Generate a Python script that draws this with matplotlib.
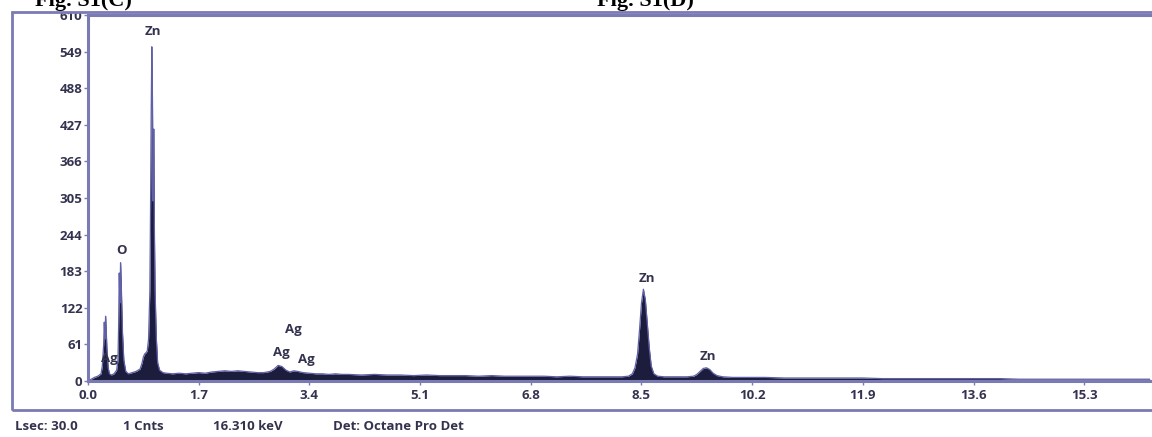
import matplotlib
matplotlib.use("Agg")
import matplotlib.pyplot as plt
from matplotlib.patches import Rectangle
from matplotlib.transforms import Bbox, TransformedBbox

# ---- data ----
energy_kev = [0.00, 0.05, 0.10, 0.15, 0.20, 0.22, 0.24, 0.25, 0.26, 0.27, 0.28, 0.29, 0.31, 0.33,
              0.36, 0.40, 0.44, 0.46, 0.47, 0.48, 0.49, 0.50, 0.51, 0.52, 0.53, 0.55, 0.58, 0.62,
              0.68, 0.74, 0.80, 0.83, 0.85, 0.87, 0.89, 0.91, 0.93, 0.95, 0.96, 0.97, 0.98, 0.99,
              1.00, 1.01, 1.02, 1.03, 1.05, 1.07, 1.10, 1.15,
              1.2, 1.3, 1.4, 1.5, 1.6, 1.7, 1.8, 1.9, 2.0, 2.1, 2.2, 2.3, 2.4, 2.5, 2.6, 2.7, 2.8,
              2.86, 2.92, 2.98, 3.04, 3.1, 3.16, 3.22, 3.3, 3.4, 3.5, 3.6, 3.7, 3.8, 3.9, 4.0,
              4.2, 4.4, 4.6, 4.8, 5.0, 5.2, 5.4, 5.6, 5.8, 6.0, 6.2, 6.4, 6.6, 6.8, 7.0, 7.2, 7.4,
              7.6, 7.8, 8.0, 8.2, 8.30, 8.36, 8.40, 8.44, 8.47, 8.50, 8.53, 8.56, 8.59, 8.62, 8.65,
              8.69, 8.75, 8.85, 9.0, 9.1, 9.2, 9.3, 9.35, 9.40, 9.45, 9.50, 9.55, 9.60, 9.66, 9.75,
              9.9, 10.1, 10.4, 10.7, 11.0, 11.3, 11.6, 11.9, 12.2, 12.5, 12.8, 13.1, 13.4, 13.7,
              14.0, 14.3, 14.6, 14.9, 15.2, 15.5, 15.8, 16.1, 16.31]
counts = [0, 3, 6, 8, 12, 25, 60, 98, 70, 108, 85, 55, 22, 12,
          10, 12, 18, 35, 90, 180, 130, 197, 165, 120, 80, 35, 16, 12,
          14, 16, 20, 30, 40, 45, 47, 50, 70, 150, 280, 440, 557, 470, 300, 420, 250, 150,
          70, 30, 18, 14,
          13, 12, 13, 12, 13, 14, 13, 15, 16, 17, 16, 17, 16, 15, 14, 14, 16,
          20, 26, 24, 18, 15, 17, 16, 14, 13, 12, 12, 11, 12, 11, 11,
          10, 11, 10, 10, 9, 10, 9, 9, 9, 8, 9, 8, 8, 8, 8, 7, 8,
          7, 7, 7, 7, 8, 12, 22, 45, 85, 130, 153, 135, 95, 55, 25,
          12, 8, 7, 7, 7, 7, 8, 11, 16, 21, 22, 19, 13, 9, 7,
          6, 6, 6, 5, 5, 5, 5, 5, 4, 4, 4, 4, 4, 4,
          4, 3, 3, 3, 3, 3, 3, 3, 3]

x_ticks = [0.0, 1.7, 3.4, 5.1, 6.8, 8.5, 10.2, 11.9, 13.6, 15.3]
y_ticks = [0, 61, 122, 183, 244, 305, 366, 427, 488, 549, 610]

peak_labels = ["Zn", "O", "Ag", "Ag", "Ag", "Ag", "Zn", "Zn"]
peak_x = [1.0, 0.52, 0.33, 3.15, 2.97, 3.36, 8.58, 9.52]
peak_y = [582, 217, 38, 85, 48, 35, 170, 40]

footer = ["Lsec: 30.0", "1 Cnts", "16.310 keV", "Det: Octane Pro Det"]
footer_x = [15, 123, 213, 333]

titles = ["Fig. S1(C)", "Fig. S1(D)"]
title_x = [35, 597]

W, H = 1152, 437
fig = plt.figure(figsize=(W / 100, H / 100), dpi=100)
fig.patch.set_facecolor("white")

frame_col = "#7a7ab4"
text_col = "#33334f"
FONT = "Open Sans"

# outer frame
outer = Rectangle((12 / W, 1 - 410 / H), 1.2, (410 - 12) / H, transform=fig.transFigure,
                  fill=False, edgecolor=frame_col, linewidth=2.0)
fig.patches.append(outer)

ax = fig.add_axes([88 / W, 1 - 381 / H, (1150 - 88) / W, (381 - 15) / H])
ax.fill_between(energy_kev, counts, 0, color="#1c1c3c", linewidth=0)
ax.plot(energy_kev, counts, color="#6060a8", linewidth=0.9)
ax.set_xlim(0, 16.31)
ax.set_ylim(0, 610)
ax.set_xticks(x_ticks)
ax.set_xticklabels([f"{v:.1f}" for v in x_ticks])
ax.set_yticks(y_ticks)
ax.set_yticklabels([str(v) for v in y_ticks])
for s in ["left", "top", "bottom"]:
    ax.spines[s].set_color(frame_col)
    ax.spines[s].set_linewidth(2.2)
ax.spines["right"].set_visible(False)
ax.tick_params(axis="both", colors=frame_col, length=3, width=1, labelcolor=text_col,
               labelsize=9.5)
ax.tick_params(axis="x", pad=3)
ax.tick_params(axis="y", pad=1)
for lab in ax.get_xticklabels() + ax.get_yticklabels():
    lab.set_fontweight("bold")
    lab.set_family(FONT)

# the top tick label is cut by the outer frame, as in the reference
clip = TransformedBbox(Bbox([[0, 0], [1, 1 - 13 / H]]), fig.transFigure)
top_lab = ax.get_yticklabels()[-1]
top_lab.set_clip_box(clip)
top_lab.set_clip_on(True)

for t, xx, yy in zip(peak_labels, peak_x, peak_y):
    ax.text(xx, yy, t, ha="center", va="center", fontsize=9.5, color=text_col,
            family=FONT, fontweight="bold")

for t, xx in zip(footer, footer_x):
    fig.text(xx / W, 1 - 427 / H, t, ha="left", va="center", fontsize=9.5,
             color=text_col, family=FONT, fontweight="bold")

for t, xx in zip(titles, title_x):
    fig.text(xx / W, 1 - 6 / H, t, ha="left", va="baseline", fontsize=16,
             family="Liberation Serif", fontweight="bold", color="black")

fig.savefig("out.png", dpi=100, facecolor="white")
